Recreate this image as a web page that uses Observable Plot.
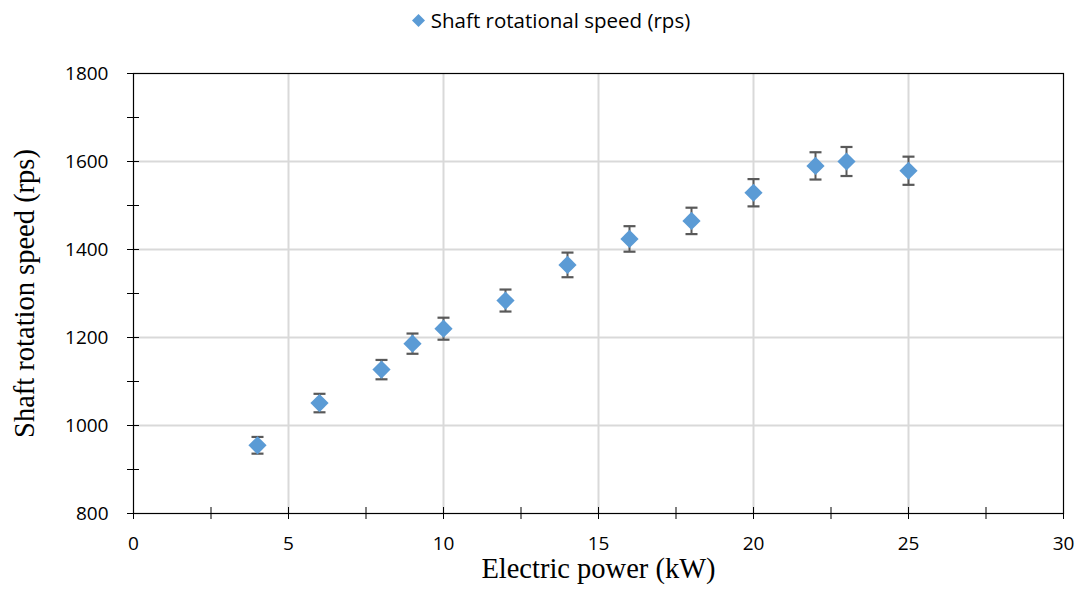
<!DOCTYPE html>
<html><head><meta charset="utf-8">
<script src="https://cdn.jsdelivr.net/npm/d3@7"></script>
<script src="https://cdn.jsdelivr.net/npm/@observablehq/plot@0.6"></script>
<style>
body{margin:0;background:#fff;width:1082px;height:593px;overflow:hidden}
#legend{height:40px;display:flex;align-items:center;justify-content:center;font-family:"Open Sans",sans-serif;font-size:20.5px;color:#000;padding-left:20px;box-sizing:border-box}
#legend svg{margin-right:6px}
#chart svg{display:block}
</style></head><body>
<div id="legend"></div>
<div id="chart"></div>
<script>
const power = [4, 6, 8, 9, 10, 12, 14, 16, 18, 20, 22, 23, 25];
const speed = [955, 1051, 1127, 1186, 1220, 1284, 1365, 1424, 1465, 1529, 1590, 1600, 1579];
const errorBar = [19, 21, 22, 23, 25, 25, 28, 29, 30, 31, 31, 33, 32];
const xTicks = [0, 5, 10, 15, 20, 25, 30];
const xMinorTicks = [0, 2.5, 5, 7.5, 10, 12.5, 15, 17.5, 20, 22.5, 25, 27.5, 30];
const yTicks = [800, 1000, 1200, 1400, 1600, 1800];
const yMinorTicks = [800, 900, 1000, 1100, 1200, 1300, 1400, 1500, 1600, 1700, 1800];
const seriesName = "Shaft rotational speed (rps)";
const xTitle = "Electric power (kW)";
const yTitle = "Shaft rotation speed (rps)";

const rows = power.map((p, i) => ({p, s: speed[i], e: errorBar[i]}));
const blue = "#5B9BD5";
const barColor = "#595959";

document.getElementById("legend").innerHTML =
  `<svg width="13" height="13" viewBox="-6.5 -6.5 13 13"><path d="M0,-6.5L6.5,0L0,6.5L-6.5,0Z" fill="${blue}"/></svg><span>${seriesName}</span>`;

const cap = {draw(ctx, size) { const w = Math.sqrt(size / Math.PI); ctx.moveTo(-w, 0); ctx.lineTo(w, 0); }};

const chart = Plot.plot({
  width: 1082,
  height: 553,
  marginTop: 33,
  marginBottom: 80,
  marginLeft: 133,
  marginRight: 19,
  style: {fontFamily: "'Open Sans', sans-serif", fontSize: "19px", color: "#000", background: "#fff"},
  x: {domain: [0, 30]},
  y: {domain: [800, 1800]},
  marks: [
    Plot.gridX(xTicks.filter(d => d > 0 && d < 30), {stroke: "#d9d9d9", strokeOpacity: 1, strokeWidth: 2}),
    Plot.gridY(yTicks.filter(d => d > 800 && d < 1800), {stroke: "#d9d9d9", strokeOpacity: 1, strokeWidth: 2}),
    Plot.frame({stroke: "#000", strokeWidth: 1.2}),
    Plot.axisX(xMinorTicks, {tickSize: 12, dy: -6, tickFormat: () => "", label: null, stroke: "#000"}),
    Plot.axisX(xTicks, {tickSize: 0, tickPadding: 23, label: null, fontSize: 19, tickFormat: d3.format("d")}),
    Plot.axisY(yMinorTicks, {tickSize: 12, dx: 6, tickFormat: () => "", label: null, stroke: "#000"}),
    Plot.axisY(yTicks, {tickSize: 0, tickPadding: 25, label: null, fontSize: 19, tickFormat: d3.format("d")}),
    Plot.ruleX(rows, {x: "p", y1: d => d.s - d.e, y2: d => d.s + d.e, stroke: barColor, strokeWidth: 2}),
    Plot.dot(rows, {x: "p", y: d => d.s - d.e, symbol: cap, r: 6, stroke: barColor, strokeWidth: 2.2, fill: "none"}),
    Plot.dot(rows, {x: "p", y: d => d.s + d.e, symbol: cap, r: 6, stroke: barColor, strokeWidth: 2.2, fill: "none"}),
    Plot.dot(rows, {x: "p", y: "s", symbol: "diamond2", r: 8.2, fill: blue, stroke: "none"}),
    Plot.text([xTitle], {text: d => d, frameAnchor: "bottom", dy: 55, lineAnchor: "middle", fontFamily: "'Liberation Serif', serif", fontSize: 28.5}),
    Plot.text([yTitle], {text: d => d, frameAnchor: "left", dx: -109, rotate: -90, lineAnchor: "middle", textAnchor: "middle", fontFamily: "'Liberation Serif', serif", fontSize: 28.5})
  ]
});
document.getElementById("chart").appendChild(chart);
</script>
</body></html>
